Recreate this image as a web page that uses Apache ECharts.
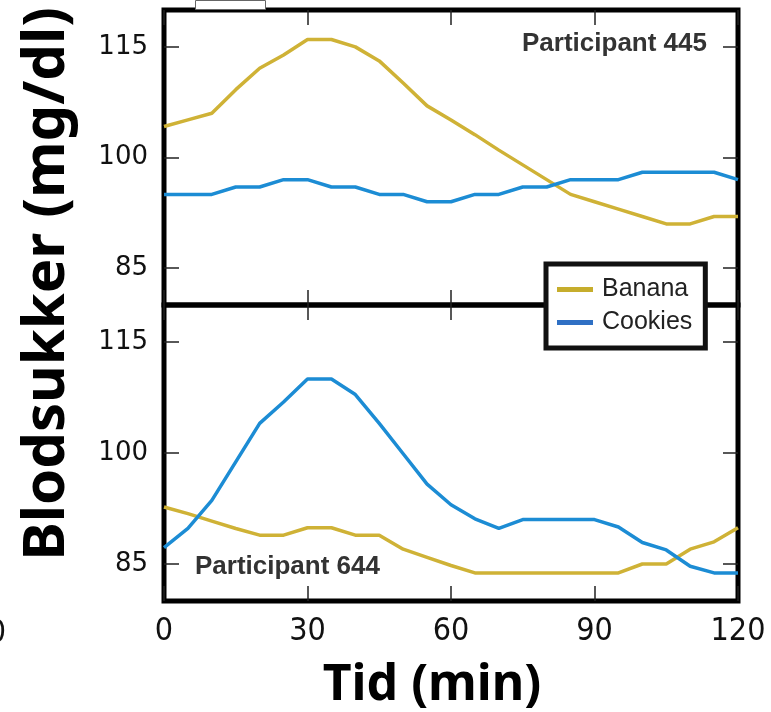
<!DOCTYPE html>
<html>
<head>
<meta charset="utf-8">
<script src="https://cdn.jsdelivr.net/npm/echarts@6/dist/echarts.min.js"></script>
<style>
  html, body { margin: 0; padding: 0; background: #fff; }
  #main { width: 771px; height: 712px; }
</style>
</head>
<body>
<div id="main"></div>
<script>
// tid i minutter
var minutes = [0, 5, 10, 15, 20, 25, 30, 35, 40, 45, 50, 55, 60, 65, 70, 75, 80, 85, 90, 95, 100, 105, 110, 115, 120];
var yTicks = [85, 100, 115];

// Participant 445
var banana445 = [104.2, 105.1, 106, 109.2, 112.1, 113.9, 116, 116, 115, 113.1, 110.1, 107, 105.1, 103.1, 101, 99, 97, 95, 94, 93, 92, 91, 91, 92, 92];
var cookies445 = [95, 95, 95, 96, 96, 97, 97, 96, 96, 95, 95, 94, 94, 95, 95, 96, 96, 97, 97, 97, 98, 98, 98, 98, 97];

// Participant 644
var banana644 = [92.7, 91.8, 90.8, 89.8, 88.9, 88.9, 89.9, 89.9, 88.9, 88.9, 87, 85.9, 84.8, 83.8, 83.8, 83.8, 83.8, 83.8, 83.8, 83.8, 85, 85, 87, 88, 89.9];
var cookies644 = [87.2, 89.8, 93.6, 98.8, 104, 106.9, 110, 110, 107.9, 104, 99.9, 95.8, 93, 91.1, 89.8, 91, 91, 91, 91, 90, 87.9, 86.9, 84.7, 83.8, 83.8];

var BANANA = '#cfb236';
var COOKIES = '#1c8cd4';

function pairs(vals) {
    return minutes.map(function (m, i) { return [m, vals[i]]; });
}

var myChart = echarts.init(document.getElementById('main'));

var tick = { show: true, inside: true, length: 15, lineStyle: { color: '#222', width: 1.5 } };

function xAx(grid, pos, labels) {
    return {
        type: 'value', gridIndex: grid, position: pos, min: 0, max: 120, interval: 30,
        axisLine: { show: false, onZero: false }, splitLine: { show: false },
        axisTick: tick,
        axisLabel: labels ? { show: true, fontSize: 32, color: '#111', margin: 15, fontFamily: 'DejaVu Sans Condensed' } : { show: false }
    };
}
function yAx(grid, pos, labels) {
    return {
        type: 'value', gridIndex: grid, position: pos, min: 80, max: 120,
        axisLine: { show: false, onZero: false }, splitLine: { show: false },
        axisTick: Object.assign({ customValues: yTicks }, tick),
        axisLabel: labels ? { show: true, customValues: yTicks, fontSize: 26, color: '#111', margin: 16, fontFamily: 'DejaVu Sans' } : { show: false }
    };
}

function line(name, x, y, vals, color) {
    return {
        name: name, type: 'line', xAxisIndex: x, yAxisIndex: y, data: pairs(vals),
        showSymbol: false, symbol: 'none',
        lineStyle: { color: color, width: 3.5 }, itemStyle: { color: color }
    };
}

myChart.setOption({
    animation: false,
    backgroundColor: '#fff',
    grid: [
        { left: 164, top: 10, width: 574, height: 295, show: true, borderColor: '#000', borderWidth: 5, backgroundColor: 'transparent' },
        { left: 164, top: 305, width: 574, height: 296, show: true, borderColor: '#000', borderWidth: 5, backgroundColor: 'transparent' }
    ],
    xAxis: [xAx(0, 'bottom', false), xAx(0, 'top', false), xAx(1, 'bottom', true), xAx(1, 'top', false)],
    yAxis: [yAx(0, 'left', true), yAx(0, 'right', false), yAx(1, 'left', true), yAx(1, 'right', false)],
    legend: {
        orient: 'vertical', left: 546, top: 264, z: 10,
        data: [
            { name: 'Banana', itemStyle: { color: '#c6ad2c' } },
            { name: 'Cookies', itemStyle: { color: '#2f70c4' } }
        ],
        icon: 'rect', itemWidth: 36, itemHeight: 5, itemGap: 8,
        padding: [13, 13, 13, 11],
        borderColor: '#111', borderWidth: 5, backgroundColor: '#fff',
        textStyle: { fontSize: 25, color: '#222', fontFamily: 'Liberation Sans', padding: [0, 0, 0, 4] }
    },
    graphic: [
        { type: 'text', x: 47, y: 284, rotation: Math.PI / 2, z: 10,
          style: { text: 'Blodsukker (mg/dl)', fontSize: 58, fontWeight: 'bold', fontFamily: 'Noto Sans', fill: '#000', align: 'center', verticalAlign: 'middle' } },
        { type: 'text', x: 432, y: 686, z: 10,
          style: { text: 'Tid (min)', fontSize: 50, fontWeight: 'bold', fontFamily: 'Noto Sans', fill: '#000', align: 'center', verticalAlign: 'middle' } },
        { type: 'text', x: 707, y: 44, z: 10,
          style: { text: 'Participant 445', fontSize: 26, fontWeight: 'bold', fontFamily: 'Liberation Sans', fill: '#333', align: 'right', verticalAlign: 'middle' } },
        { type: 'text', x: 195, y: 567, z: 10,
          style: { text: 'Participant 644', fontSize: 26, fontWeight: 'bold', fontFamily: 'Liberation Sans', fill: '#333', align: 'left', verticalAlign: 'middle' } },
        { type: 'text', x: 6, y: 634, z: 10,
          style: { text: '0', fontSize: 32, fontFamily: 'DejaVu Sans Condensed', fill: '#111', align: 'right', verticalAlign: 'middle' } },
        { type: 'rect', left: 195, top: 0, z: 10,
          shape: { width: 70, height: 9 }, style: { fill: '#fff', stroke: '#666', lineWidth: 1 } }
    ],
    series: [
        line('Banana', 0, 0, banana445, BANANA),
        line('Cookies', 0, 0, cookies445, COOKIES),
        line('Banana', 2, 2, banana644, BANANA),
        line('Cookies', 2, 2, cookies644, COOKIES)
    ]
});
</script>
</body>
</html>
